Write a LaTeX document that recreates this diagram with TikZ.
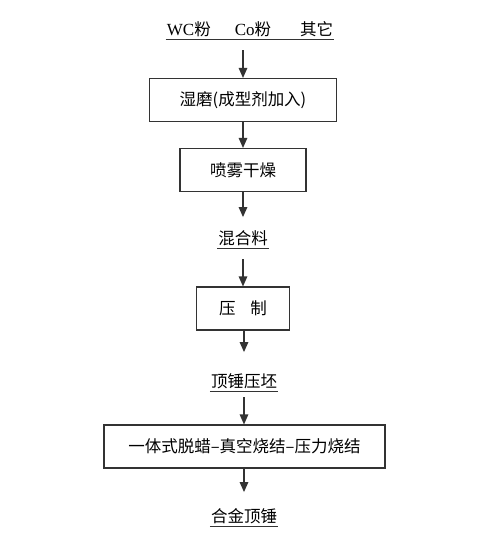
\documentclass[tikz,border=0pt]{standalone}
\usepackage{fontspec}
\setmainfont{Liberation Serif}
\newfontfamily\cjk{Noto Sans CJK SC}
\usetikzlibrary{arrows.meta, positioning}
\tikzset{
  procbox/.style={rectangle, draw=black!80, line width=1.1pt, minimum height=43pt,
                  inner sep=0pt, align=center, font=\cjk\fontsize{16.5}{16.5}\selectfont},
  prod/.style   ={inner xsep=1pt, inner ysep=0pt, anchor=south, text height=14pt, text depth=3.5pt,
                  font=\cjk\fontsize{16.5}{16.5}\selectfont},
  uline/.style  ={draw=black!80, line width=1pt},
  flow/.style   ={-{Triangle[length=10pt, width=8.5pt]}, line width=1.3pt, draw=black!80},
}
\begin{document}
\begin{tikzpicture}[x=1pt, y=-1pt]
    \useasboundingbox (0,0) rectangle (487,542);
    \node[prod] (mat) at (250,39) {{\rmfamily\fontsize{17}{17}\selectfont WC}粉\hspace{24pt}{\rmfamily\fontsize{17}{17}\selectfont Co}粉\hspace{29pt}其它};
    \node[procbox, minimum width=187pt] (wet) at (243,100) {湿磨(成型剂加入)};
    \node[procbox, minimum width=126pt] (dry) at (243,170) {喷雾干燥};
    \node[prod] (mix) at (243,248) {混合料};
    \node[procbox, minimum width=93pt] (press) at (243,308.5) {压\hspace{15pt}制};
    \node[prod] (blank) at (244,391) {顶锤压坯};
    \node[procbox, minimum width=281pt] (sinter) at (244.5,446.5) {一体式脱蜡–真空烧结–压力烧结};
    \node[prod] (alloy) at (244,526) {合金顶锤};
    % underlines
    \draw[uline] (mat.south west) -- (mat.south east);
    \draw[uline] (mix.south west) -- (mix.south east);
    \draw[uline] (blank.south west) -- (blank.south east);
    \draw[uline] (alloy.south west) -- (alloy.south east);
    \draw[flow, shorten <=11pt] (wet.north |- mat.south) -- (wet);
    \draw[flow] (wet) -- (dry);
    \draw[flow, shorten >=13pt] (dry) -- (mix);
    \draw[flow, shorten <=11pt] (mix) -- (press);
    \draw[flow, shorten >=21pt] (press.south -| blank) -- (blank);
    \draw[flow, shorten <=6pt] (blank) -- (sinter.north -| blank);
    \draw[flow, shorten >=16pt] (sinter.south -| alloy) -- (alloy);
\end{tikzpicture}
\end{document}
